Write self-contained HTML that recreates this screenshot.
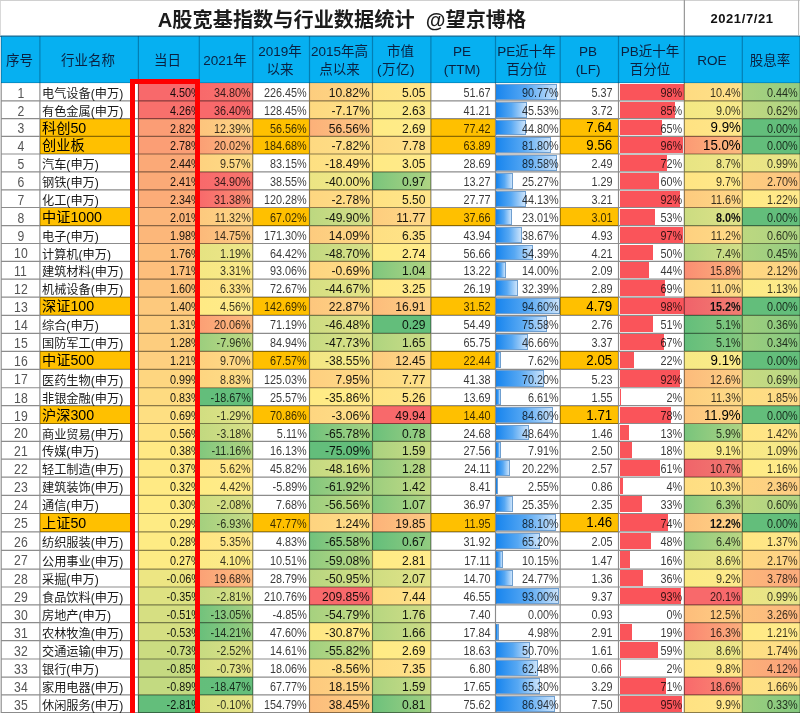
<!DOCTYPE html>
<html lang="zh-CN"><head><meta charset="utf-8"><title>A股宽基指数与行业数据统计</title>
<style>
html,body{margin:0;padding:0;background:#fff;overflow:hidden;}
body{width:800px;height:713px;position:relative;overflow:hidden;font-family:"Liberation Sans","Noto Sans CJK SC",sans-serif;}
.a{position:absolute;box-sizing:border-box;}
.c{position:absolute;box-sizing:border-box;display:flex;align-items:center;justify-content:flex-end;white-space:nowrap;font-size:12.6px;color:#3c3c3c;padding:2px 3px 0 0;overflow:hidden;}
.n{justify-content:flex-start;padding:2px 0 0 2px;font-size:12.2px;color:#1a1a1a;}
.ni{font-size:14.2px;color:#000;padding:0 0 2px 2px;}
.no{justify-content:center;padding:1px 0 0 0;font-size:14.2px;color:#555;}
.b{color:#000;font-size:14px;padding:0 3px 1px 0;}
.b .t{transform:scale(0.95,1);}
.t{display:inline-block;position:relative;transform:scale(0.86,1);transform-origin:right center;}
.no .t{transform-origin:center center;}
.t.w{transform:scale(0.96,1);}
.b13{color:#111;font-weight:bold;font-size:12.6px;}
.h{position:absolute;box-sizing:border-box;display:flex;align-items:center;justify-content:center;text-align:center;font-size:13.5px;line-height:18.5px;padding:3px 2px 0 0;color:#0B2040;white-space:nowrap;}
.v{position:absolute;width:1px;background:rgba(0,0,0,0.45);}
.hl{position:absolute;height:1px;background:rgba(0,0,0,0.45);}
.pe{position:absolute;box-sizing:border-box;background:linear-gradient(90deg,#1a86ee 0%,#57a8f3 50%,#cbe3fb 100%);border:1px solid #6f9fd0;border-left-color:#1c88ee;}
.pb{position:absolute;background:#fa545a;}
</style></head><body>

<div class="a" style="left:0;top:0;width:800px;height:1px;background:#d0d0d0"></div>
<div class="a" style="left:1px;top:0;width:684px;height:36px;display:flex;align-items:center;justify-content:center;font-size:20.2px;font-weight:700;color:#1c1c1c;white-space:pre;padding-top:0px;padding-right:2px">A股宽基指数与行业数据统计  @望京博格</div>
<div class="a" style="left:684px;top:0;width:116px;height:36px;display:flex;align-items:center;justify-content:center;font-size:13px;font-weight:bold;letter-spacing:0.6px;color:#111;padding-top:1px">2021/7/21</div>
<div class="v" style="left:684px;top:0;height:36px;background:#9a9a9a"></div>
<div class="a" style="left:1px;top:36px;width:799px;height:47px;background:#06B0F1"></div>
<div class="h" style="left:1px;top:36px;width:39px;height:47px"><div>序号</div></div>
<div class="h" style="left:40px;top:36px;width:98px;height:47px"><div>行业名称</div></div>
<div class="h" style="left:138px;top:36px;width:61px;height:47px"><div>当日</div></div>
<div class="h" style="left:199px;top:36px;width:54px;height:47px"><div>2021年</div></div>
<div class="h" style="left:253px;top:36px;width:56px;height:47px"><div>2019年<br>以来</div></div>
<div class="h" style="left:309px;top:36px;width:63px;height:47px"><div>2015年高<br>点以来</div></div>
<div class="h" style="left:372px;top:36px;width:59px;height:47px"><div>市值<br><span style="position:relative;left:-4.5px;letter-spacing:0.5px">(万亿)</span></div></div>
<div class="h" style="left:431px;top:36px;width:64px;height:47px"><div>PE<br>(TTM)</div></div>
<div class="h" style="left:495px;top:36px;width:65px;height:47px"><div>PE近十年<br>百分位</div></div>
<div class="h" style="left:560px;top:36px;width:58px;height:47px"><div>PB<br>(LF)</div></div>
<div class="h" style="left:618px;top:36px;width:66px;height:47px"><div>PB近十年<br>百分位</div></div>
<div class="h" style="left:684px;top:36px;width:58px;height:47px"><div>ROE</div></div>
<div class="h" style="left:742px;top:36px;width:58px;height:47px"><div>股息率</div></div>
<div class="c no" style="left:1px;top:83px;width:39px;height:18px;"><span class="t">1</span></div>
<div class="c n" style="left:40px;top:83px;width:95px;height:18px;">电气设备(申万)</div>
<div class="c" style="left:138px;top:83px;width:61px;height:18px;padding-right:0px;color:rgba(0,0,0,0.9);background:#F8696B;"><span class="t" style="left:2px">4.50%</span></div>
<div class="c" style="left:199px;top:83px;width:54px;height:18px;padding-right:2.5px;color:rgba(0,0,0,0.78);background:linear-gradient(90deg,#F8696B,#F9766E);"><span class="t">34.80%</span></div>
<div class="c" style="left:253px;top:83px;width:56px;height:18px;padding-right:2px;color:rgba(0,0,0,0.78);"><span class="t">226.45%</span></div>
<div class="c" style="left:309px;top:83px;width:63px;height:18px;padding-right:2px;color:rgba(0,0,0,0.9);background:linear-gradient(90deg,#FDCD7E,#FED987);"><span class="t w">10.82%</span></div>
<div class="c" style="left:372px;top:83px;width:59px;height:18px;padding-right:5.5px;color:rgba(0,0,0,0.9);background:linear-gradient(90deg,#FFE383,#FFE68B);"><span class="t w">5.05</span></div>
<div class="c" style="left:431px;top:83px;width:64px;height:18px;padding-right:4.5px;color:rgba(0,0,0,0.78);"><span class="t">51.67</span></div>
<div class="c" style="left:495px;top:83px;width:65px;height:18px;padding-right:1.5px;color:rgba(0,0,0,0.78);"><div class="pe" style="left:1px;top:1px;width:61.4px;height:16px"></div><span class="t">90.77%</span></div>
<div class="c" style="left:560px;top:83px;width:58px;height:18px;padding-right:5.5px;color:rgba(0,0,0,0.78);"><span class="t">5.37</span></div>
<div class="c" style="left:618px;top:83px;width:66px;height:18px;padding-right:1.5px;color:rgba(0,0,0,0.78);"><div class="pb" style="left:2px;top:1px;width:63.8px;height:16px"></div><span class="t">98%</span></div>
<div class="c" style="left:684px;top:83px;width:58px;height:18px;padding-right:1.5px;color:rgba(0,0,0,0.78);background:linear-gradient(90deg,#FEDB81,#FEE18A);"><span class="t">10.4%</span></div>
<div class="c" style="left:742px;top:83px;width:58px;height:18px;padding-right:2px;color:rgba(0,0,0,0.78);background:linear-gradient(90deg,#A8D27F,#95CC80);"><span class="t">0.44%</span></div>
<div class="c no" style="left:1px;top:101px;width:39px;height:18px;"><span class="t">2</span></div>
<div class="c n" style="left:40px;top:101px;width:95px;height:18px;">有色金属(申万)</div>
<div class="c" style="left:138px;top:101px;width:61px;height:18px;padding-right:0px;color:rgba(0,0,0,0.9);background:#F8706C;"><span class="t" style="left:2px">4.26%</span></div>
<div class="c" style="left:199px;top:101px;width:54px;height:18px;padding-right:2.5px;color:rgba(0,0,0,0.78);background:linear-gradient(90deg,#F8696B,#F8696B);"><span class="t">36.40%</span></div>
<div class="c" style="left:253px;top:101px;width:56px;height:18px;padding-right:2px;color:rgba(0,0,0,0.78);"><span class="t">128.45%</span></div>
<div class="c" style="left:309px;top:101px;width:63px;height:18px;padding-right:2px;color:rgba(0,0,0,0.9);background:linear-gradient(90deg,#FED980,#FEE089);"><span class="t w">-7.17%</span></div>
<div class="c" style="left:372px;top:101px;width:59px;height:18px;padding-right:5.5px;color:rgba(0,0,0,0.9);background:linear-gradient(90deg,#FAEA84,#FCEA8C);"><span class="t w">2.63</span></div>
<div class="c" style="left:431px;top:101px;width:64px;height:18px;padding-right:4.5px;color:rgba(0,0,0,0.78);"><span class="t">41.21</span></div>
<div class="c" style="left:495px;top:101px;width:65px;height:18px;padding-right:1.5px;color:rgba(0,0,0,0.78);"><div class="pe" style="left:1px;top:1px;width:30.8px;height:16px"></div><span class="t">45.53%</span></div>
<div class="c" style="left:560px;top:101px;width:58px;height:18px;padding-right:5.5px;color:rgba(0,0,0,0.78);"><span class="t">3.72</span></div>
<div class="c" style="left:618px;top:101px;width:66px;height:18px;padding-right:1.5px;color:rgba(0,0,0,0.78);"><div class="pb" style="left:2px;top:1px;width:55.3px;height:16px"></div><span class="t">85%</span></div>
<div class="c" style="left:684px;top:101px;width:58px;height:18px;padding-right:1.5px;color:rgba(0,0,0,0.78);background:linear-gradient(90deg,#F3E883,#F8E98B);"><span class="t">9.0%</span></div>
<div class="c" style="left:742px;top:101px;width:58px;height:18px;padding-right:2px;color:rgba(0,0,0,0.78);background:linear-gradient(90deg,#BED880,#B0D483);"><span class="t">0.62%</span></div>
<div class="c no" style="left:1px;top:119px;width:39px;height:17px;"><span class="t">3</span></div>
<div class="c n ni" style="left:40px;top:119px;width:95px;height:17px;background:#FFC000;">科创50</div>
<div class="c" style="left:138px;top:119px;width:61px;height:17px;padding-right:0px;color:rgba(0,0,0,0.9);background:#FB9D75;"><span class="t" style="left:2px">2.82%</span></div>
<div class="c" style="left:199px;top:119px;width:54px;height:17px;padding-right:2.5px;color:rgba(0,0,0,0.78);background:linear-gradient(90deg,#FDC47D,#FED486);"><span class="t">12.39%</span></div>
<div class="c" style="left:253px;top:119px;width:56px;height:17px;padding-right:2px;color:rgba(0,0,0,0.78);background:#FFC000;"><span class="t">56.56%</span></div>
<div class="c" style="left:309px;top:119px;width:63px;height:17px;padding-right:2px;color:rgba(0,0,0,0.9);background:linear-gradient(90deg,#FCB079,#FDC883);"><span class="t w">56.56%</span></div>
<div class="c" style="left:372px;top:119px;width:59px;height:17px;padding-right:5.5px;color:rgba(0,0,0,0.9);background:linear-gradient(90deg,#FFEB84,#FFEB8C);"><span class="t w">2.69</span></div>
<div class="c" style="left:431px;top:119px;width:64px;height:17px;padding-right:4.5px;color:rgba(0,0,0,0.78);background:#FFC000;"><span class="t">77.42</span></div>
<div class="c" style="left:495px;top:119px;width:65px;height:17px;padding-right:1.5px;color:rgba(0,0,0,0.78);"><div class="pe" style="left:1px;top:1px;width:30.3px;height:15px"></div><span class="t">44.80%</span></div>
<div class="c b" style="left:560px;top:119px;width:58px;height:17px;padding-right:5.5px;background:#FFC000;"><span class="t">7.64</span></div>
<div class="c" style="left:618px;top:119px;width:66px;height:17px;padding-right:1.5px;color:rgba(0,0,0,0.78);"><div class="pb" style="left:2px;top:1px;width:42.3px;height:15px"></div><span class="t">65%</span></div>
<div class="c b" style="left:684px;top:119px;width:58px;height:17px;padding-right:1.5px;background:linear-gradient(90deg,#FFE282,#FFE68B);"><span class="t">9.9%</span></div>
<div class="c" style="left:742px;top:119px;width:58px;height:17px;padding-right:2px;color:rgba(0,0,0,0.78);background:linear-gradient(90deg,#63BE7B,#63BE7B);"><span class="t">0.00%</span></div>
<div class="c no" style="left:1px;top:136px;width:39px;height:18px;"><span class="t">4</span></div>
<div class="c n ni" style="left:40px;top:136px;width:95px;height:18px;background:#FFC000;">创业板</div>
<div class="c" style="left:138px;top:136px;width:61px;height:18px;padding-right:0px;color:rgba(0,0,0,0.9);background:#FB9E75;"><span class="t" style="left:2px">2.78%</span></div>
<div class="c" style="left:199px;top:136px;width:54px;height:18px;padding-right:2.5px;color:rgba(0,0,0,0.78);background:linear-gradient(90deg,#FB9F75,#FDBD80);"><span class="t">20.02%</span></div>
<div class="c" style="left:253px;top:136px;width:56px;height:18px;padding-right:2px;color:rgba(0,0,0,0.78);background:#FFC000;"><span class="t">184.68%</span></div>
<div class="c" style="left:309px;top:136px;width:63px;height:18px;padding-right:2px;color:rgba(0,0,0,0.9);background:linear-gradient(90deg,#FED981,#FEE089);"><span class="t w">-7.82%</span></div>
<div class="c" style="left:372px;top:136px;width:59px;height:18px;padding-right:5.5px;color:rgba(0,0,0,0.9);background:linear-gradient(90deg,#FEDA81,#FEE189);"><span class="t w">7.78</span></div>
<div class="c" style="left:431px;top:136px;width:64px;height:18px;padding-right:4.5px;color:rgba(0,0,0,0.78);background:#FFC000;"><span class="t">63.89</span></div>
<div class="c" style="left:495px;top:136px;width:65px;height:18px;padding-right:1.5px;color:rgba(0,0,0,0.78);"><div class="pe" style="left:1px;top:1px;width:55.3px;height:16px"></div><span class="t">81.80%</span></div>
<div class="c b" style="left:560px;top:136px;width:58px;height:18px;padding-right:5.5px;background:#FFC000;"><span class="t">9.56</span></div>
<div class="c" style="left:618px;top:136px;width:66px;height:18px;padding-right:1.5px;color:rgba(0,0,0,0.78);"><div class="pb" style="left:2px;top:1px;width:62.5px;height:16px"></div><span class="t">96%</span></div>
<div class="c b" style="left:684px;top:136px;width:58px;height:18px;padding-right:1.5px;background:linear-gradient(90deg,#FB9974,#FCBA7F);"><span class="t">15.0%</span></div>
<div class="c" style="left:742px;top:136px;width:58px;height:18px;padding-right:2px;color:rgba(0,0,0,0.78);background:linear-gradient(90deg,#63BE7B,#63BE7B);"><span class="t">0.00%</span></div>
<div class="c no" style="left:1px;top:154px;width:39px;height:18px;"><span class="t">5</span></div>
<div class="c n" style="left:40px;top:154px;width:95px;height:18px;">汽车(申万)</div>
<div class="c" style="left:138px;top:154px;width:61px;height:18px;padding-right:0px;color:rgba(0,0,0,0.9);background:#FBA977;"><span class="t" style="left:2px">2.44%</span></div>
<div class="c" style="left:199px;top:154px;width:54px;height:18px;padding-right:2.5px;color:rgba(0,0,0,0.78);background:linear-gradient(90deg,#FED27F,#FEDC88);"><span class="t">9.57%</span></div>
<div class="c" style="left:253px;top:154px;width:56px;height:18px;padding-right:2px;color:rgba(0,0,0,0.78);"><span class="t">83.15%</span></div>
<div class="c" style="left:309px;top:154px;width:63px;height:18px;padding-right:2px;color:rgba(0,0,0,0.9);background:linear-gradient(90deg,#FEE082,#FFE48A);"><span class="t w">-18.49%</span></div>
<div class="c" style="left:372px;top:154px;width:59px;height:18px;padding-right:5.5px;color:rgba(0,0,0,0.9);background:linear-gradient(90deg,#FFEA84,#FFEA8C);"><span class="t w">3.05</span></div>
<div class="c" style="left:431px;top:154px;width:64px;height:18px;padding-right:4.5px;color:rgba(0,0,0,0.78);"><span class="t">28.69</span></div>
<div class="c" style="left:495px;top:154px;width:65px;height:18px;padding-right:1.5px;color:rgba(0,0,0,0.78);"><div class="pe" style="left:1px;top:1px;width:60.6px;height:16px"></div><span class="t">89.58%</span></div>
<div class="c" style="left:560px;top:154px;width:58px;height:18px;padding-right:5.5px;color:rgba(0,0,0,0.78);"><span class="t">2.49</span></div>
<div class="c" style="left:618px;top:154px;width:66px;height:18px;padding-right:1.5px;color:rgba(0,0,0,0.78);"><div class="pb" style="left:2px;top:1px;width:46.9px;height:16px"></div><span class="t">72%</span></div>
<div class="c" style="left:684px;top:154px;width:58px;height:18px;padding-right:1.5px;color:rgba(0,0,0,0.78);background:linear-gradient(90deg,#E7E483,#F1E78A);"><span class="t">8.7%</span></div>
<div class="c" style="left:742px;top:154px;width:58px;height:18px;padding-right:2px;color:rgba(0,0,0,0.78);background:linear-gradient(90deg,#EBE583,#E7E489);"><span class="t">0.99%</span></div>
<div class="c no" style="left:1px;top:172px;width:39px;height:18px;"><span class="t">6</span></div>
<div class="c n" style="left:40px;top:172px;width:95px;height:18px;">钢铁(申万)</div>
<div class="c" style="left:138px;top:172px;width:61px;height:18px;padding-right:0px;color:rgba(0,0,0,0.9);background:#FBAA77;"><span class="t" style="left:2px">2.41%</span></div>
<div class="c" style="left:199px;top:172px;width:54px;height:18px;padding-right:2.5px;color:rgba(0,0,0,0.78);background:linear-gradient(90deg,#F8696B,#F9766E);"><span class="t">34.90%</span></div>
<div class="c" style="left:253px;top:172px;width:56px;height:18px;padding-right:2px;color:rgba(0,0,0,0.78);"><span class="t">38.55%</span></div>
<div class="c" style="left:309px;top:172px;width:63px;height:18px;padding-right:2px;color:rgba(0,0,0,0.9);background:linear-gradient(90deg,#EBE583,#F3E88B);"><span class="t w">-40.00%</span></div>
<div class="c" style="left:372px;top:172px;width:59px;height:18px;padding-right:5.5px;color:rgba(0,0,0,0.9);background:linear-gradient(90deg,#79C47C,#AFD483);"><span class="t w">0.97</span></div>
<div class="c" style="left:431px;top:172px;width:64px;height:18px;padding-right:4.5px;color:rgba(0,0,0,0.78);"><span class="t">13.27</span></div>
<div class="c" style="left:495px;top:172px;width:65px;height:18px;padding-right:1.5px;color:rgba(0,0,0,0.78);"><div class="pe" style="left:1px;top:1px;width:17.1px;height:16px"></div><span class="t">25.27%</span></div>
<div class="c" style="left:560px;top:172px;width:58px;height:18px;padding-right:5.5px;color:rgba(0,0,0,0.78);"><span class="t">1.29</span></div>
<div class="c" style="left:618px;top:172px;width:66px;height:18px;padding-right:1.5px;color:rgba(0,0,0,0.78);"><div class="pb" style="left:2px;top:1px;width:39.1px;height:16px"></div><span class="t">60%</span></div>
<div class="c" style="left:684px;top:172px;width:58px;height:18px;padding-right:1.5px;color:rgba(0,0,0,0.78);background:linear-gradient(90deg,#FFE583,#FFE88B);"><span class="t">9.7%</span></div>
<div class="c" style="left:742px;top:172px;width:58px;height:18px;padding-right:2px;color:rgba(0,0,0,0.78);background:linear-gradient(90deg,#FDCC7E,#FDC582);"><span class="t">2.70%</span></div>
<div class="c no" style="left:1px;top:190px;width:39px;height:18px;"><span class="t">7</span></div>
<div class="c n" style="left:40px;top:190px;width:95px;height:18px;">化工(申万)</div>
<div class="c" style="left:138px;top:190px;width:61px;height:18px;padding-right:0px;color:rgba(0,0,0,0.9);background:#FCAC78;"><span class="t" style="left:2px">2.34%</span></div>
<div class="c" style="left:199px;top:190px;width:54px;height:18px;padding-right:2.5px;color:rgba(0,0,0,0.78);background:linear-gradient(90deg,#F8696B,#FA9175);"><span class="t">31.38%</span></div>
<div class="c" style="left:253px;top:190px;width:56px;height:18px;padding-right:2px;color:rgba(0,0,0,0.78);"><span class="t">120.28%</span></div>
<div class="c" style="left:309px;top:190px;width:63px;height:18px;padding-right:2px;color:rgba(0,0,0,0.9);background:linear-gradient(90deg,#FED680,#FEDE89);"><span class="t w">-2.78%</span></div>
<div class="c" style="left:372px;top:190px;width:59px;height:18px;padding-right:5.5px;color:rgba(0,0,0,0.9);background:linear-gradient(90deg,#FFE282,#FFE58B);"><span class="t w">5.50</span></div>
<div class="c" style="left:431px;top:190px;width:64px;height:18px;padding-right:4.5px;color:rgba(0,0,0,0.78);"><span class="t">27.77</span></div>
<div class="c" style="left:495px;top:190px;width:65px;height:18px;padding-right:1.5px;color:rgba(0,0,0,0.78);"><div class="pe" style="left:1px;top:1px;width:29.9px;height:16px"></div><span class="t">44.13%</span></div>
<div class="c" style="left:560px;top:190px;width:58px;height:18px;padding-right:5.5px;color:rgba(0,0,0,0.78);"><span class="t">3.21</span></div>
<div class="c" style="left:618px;top:190px;width:66px;height:18px;padding-right:1.5px;color:rgba(0,0,0,0.78);"><div class="pb" style="left:2px;top:1px;width:59.9px;height:16px"></div><span class="t">92%</span></div>
<div class="c" style="left:684px;top:190px;width:58px;height:18px;padding-right:1.5px;color:rgba(0,0,0,0.78);background:linear-gradient(90deg,#FDCA7E,#FED787);"><span class="t">11.6%</span></div>
<div class="c" style="left:742px;top:190px;width:58px;height:18px;padding-right:2px;color:rgba(0,0,0,0.78);background:linear-gradient(90deg,#FFEA84,#FFE98C);"><span class="t">1.22%</span></div>
<div class="c no" style="left:1px;top:208px;width:39px;height:18px;"><span class="t">8</span></div>
<div class="c n ni" style="left:40px;top:208px;width:95px;height:18px;background:#FFC000;">中证1000</div>
<div class="c" style="left:138px;top:208px;width:61px;height:18px;padding-right:0px;color:rgba(0,0,0,0.9);background:#FCB67A;"><span class="t" style="left:2px">2.01%</span></div>
<div class="c" style="left:199px;top:208px;width:54px;height:18px;padding-right:2.5px;color:rgba(0,0,0,0.78);background:linear-gradient(90deg,#FDC97E,#FED787);"><span class="t">11.32%</span></div>
<div class="c" style="left:253px;top:208px;width:56px;height:18px;padding-right:2px;color:rgba(0,0,0,0.78);background:#FFC000;"><span class="t">67.02%</span></div>
<div class="c" style="left:309px;top:208px;width:63px;height:18px;padding-right:2px;color:rgba(0,0,0,0.9);background:linear-gradient(90deg,#BCD880,#D7DF88);"><span class="t w">-49.90%</span></div>
<div class="c" style="left:372px;top:208px;width:59px;height:18px;padding-right:5.5px;color:rgba(0,0,0,0.9);background:linear-gradient(90deg,#FDCD7E,#FED987);"><span class="t w">11.77</span></div>
<div class="c" style="left:431px;top:208px;width:64px;height:18px;padding-right:4.5px;color:rgba(0,0,0,0.78);background:#FFC000;"><span class="t">37.66</span></div>
<div class="c" style="left:495px;top:208px;width:65px;height:18px;padding-right:1.5px;color:rgba(0,0,0,0.78);"><div class="pe" style="left:1px;top:1px;width:15.6px;height:16px"></div><span class="t">23.01%</span></div>
<div class="c" style="left:560px;top:208px;width:58px;height:18px;padding-right:5.5px;color:rgba(0,0,0,0.78);background:#FFC000;"><span class="t">3.01</span></div>
<div class="c" style="left:618px;top:208px;width:66px;height:18px;padding-right:1.5px;color:rgba(0,0,0,0.78);"><div class="pb" style="left:2px;top:1px;width:34.5px;height:16px"></div><span class="t">53%</span></div>
<div class="c b13" style="left:684px;top:208px;width:58px;height:18px;padding-right:1.5px;background:linear-gradient(90deg,#CBDC81,#E0E289);"><span class="t">8.0%</span></div>
<div class="c" style="left:742px;top:208px;width:58px;height:18px;padding-right:2px;color:rgba(0,0,0,0.78);background:linear-gradient(90deg,#63BE7B,#63BE7B);"><span class="t">0.00%</span></div>
<div class="c no" style="left:1px;top:226px;width:39px;height:18px;"><span class="t">9</span></div>
<div class="c n" style="left:40px;top:226px;width:95px;height:18px;">电子(申万)</div>
<div class="c" style="left:138px;top:226px;width:61px;height:18px;padding-right:0px;color:rgba(0,0,0,0.9);background:#FCB77A;"><span class="t" style="left:2px">1.98%</span></div>
<div class="c" style="left:199px;top:226px;width:54px;height:18px;padding-right:2.5px;color:rgba(0,0,0,0.78);background:linear-gradient(90deg,#FCB97A,#FDCD84);"><span class="t">14.75%</span></div>
<div class="c" style="left:253px;top:226px;width:56px;height:18px;padding-right:2px;color:rgba(0,0,0,0.78);"><span class="t">171.30%</span></div>
<div class="c" style="left:309px;top:226px;width:63px;height:18px;padding-right:2px;color:rgba(0,0,0,0.9);background:linear-gradient(90deg,#FDCB7E,#FED887);"><span class="t w">14.09%</span></div>
<div class="c" style="left:372px;top:226px;width:59px;height:18px;padding-right:5.5px;color:rgba(0,0,0,0.9);background:linear-gradient(90deg,#FEDF82,#FFE48A);"><span class="t w">6.35</span></div>
<div class="c" style="left:431px;top:226px;width:64px;height:18px;padding-right:4.5px;color:rgba(0,0,0,0.78);"><span class="t">43.94</span></div>
<div class="c" style="left:495px;top:226px;width:65px;height:18px;padding-right:1.5px;color:rgba(0,0,0,0.78);"><div class="pe" style="left:1px;top:1px;width:26.2px;height:16px"></div><span class="t">38.67%</span></div>
<div class="c" style="left:560px;top:226px;width:58px;height:18px;padding-right:5.5px;color:rgba(0,0,0,0.78);"><span class="t">4.93</span></div>
<div class="c" style="left:618px;top:226px;width:66px;height:18px;padding-right:1.5px;color:rgba(0,0,0,0.78);"><div class="pb" style="left:2px;top:1px;width:63.1px;height:16px"></div><span class="t">97%</span></div>
<div class="c" style="left:684px;top:226px;width:58px;height:18px;padding-right:1.5px;color:rgba(0,0,0,0.78);background:linear-gradient(90deg,#FED07F,#FEDB88);"><span class="t">11.2%</span></div>
<div class="c" style="left:742px;top:226px;width:58px;height:18px;padding-right:2px;color:rgba(0,0,0,0.78);background:linear-gradient(90deg,#BCD880,#ADD383);"><span class="t">0.60%</span></div>
<div class="c no" style="left:1px;top:244px;width:39px;height:17px;"><span class="t">10</span></div>
<div class="c n" style="left:40px;top:244px;width:95px;height:17px;">计算机(申万)</div>
<div class="c" style="left:138px;top:244px;width:61px;height:17px;padding-right:0px;color:rgba(0,0,0,0.9);background:#FDBE7B;"><span class="t" style="left:2px">1.76%</span></div>
<div class="c" style="left:199px;top:244px;width:54px;height:17px;padding-right:2.5px;color:rgba(0,0,0,0.78);background:linear-gradient(90deg,#E5E382,#EFE68A);"><span class="t">1.19%</span></div>
<div class="c" style="left:253px;top:244px;width:56px;height:17px;padding-right:2px;color:rgba(0,0,0,0.78);"><span class="t">64.42%</span></div>
<div class="c" style="left:309px;top:244px;width:63px;height:17px;padding-right:2px;color:rgba(0,0,0,0.9);background:linear-gradient(90deg,#C2D980,#DAE088);"><span class="t w">-48.70%</span></div>
<div class="c" style="left:372px;top:244px;width:59px;height:17px;padding-right:5.5px;color:rgba(0,0,0,0.9);background:linear-gradient(90deg,#FFEB84,#FFEB8C);"><span class="t w">2.74</span></div>
<div class="c" style="left:431px;top:244px;width:64px;height:17px;padding-right:4.5px;color:rgba(0,0,0,0.78);"><span class="t">56.66</span></div>
<div class="c" style="left:495px;top:244px;width:65px;height:17px;padding-right:1.5px;color:rgba(0,0,0,0.78);"><div class="pe" style="left:1px;top:1px;width:36.8px;height:15px"></div><span class="t">54.39%</span></div>
<div class="c" style="left:560px;top:244px;width:58px;height:17px;padding-right:5.5px;color:rgba(0,0,0,0.78);"><span class="t">4.21</span></div>
<div class="c" style="left:618px;top:244px;width:66px;height:17px;padding-right:1.5px;color:rgba(0,0,0,0.78);"><div class="pb" style="left:2px;top:1px;width:32.6px;height:15px"></div><span class="t">50%</span></div>
<div class="c" style="left:684px;top:244px;width:58px;height:17px;padding-right:1.5px;color:rgba(0,0,0,0.78);background:linear-gradient(90deg,#B3D580,#D2DE87);"><span class="t">7.4%</span></div>
<div class="c" style="left:742px;top:244px;width:58px;height:17px;padding-right:2px;color:rgba(0,0,0,0.78);background:linear-gradient(90deg,#AAD27F,#97CD81);"><span class="t">0.45%</span></div>
<div class="c no" style="left:1px;top:261px;width:39px;height:18px;"><span class="t">11</span></div>
<div class="c n" style="left:40px;top:261px;width:95px;height:18px;">建筑材料(申万)</div>
<div class="c" style="left:138px;top:261px;width:61px;height:18px;padding-right:0px;color:rgba(0,0,0,0.9);background:#FDBF7C;"><span class="t" style="left:2px">1.71%</span></div>
<div class="c" style="left:199px;top:261px;width:54px;height:18px;padding-right:2.5px;color:rgba(0,0,0,0.78);background:linear-gradient(90deg,#F6E883,#FAE98B);"><span class="t">3.31%</span></div>
<div class="c" style="left:253px;top:261px;width:56px;height:18px;padding-right:2px;color:rgba(0,0,0,0.78);"><span class="t">93.06%</span></div>
<div class="c" style="left:309px;top:261px;width:63px;height:18px;padding-right:2px;color:rgba(0,0,0,0.9);background:linear-gradient(90deg,#FED580,#FEDE89);"><span class="t w">-0.69%</span></div>
<div class="c" style="left:372px;top:261px;width:59px;height:18px;padding-right:5.5px;color:rgba(0,0,0,0.9);background:linear-gradient(90deg,#7EC67D,#B2D584);"><span class="t w">1.04</span></div>
<div class="c" style="left:431px;top:261px;width:64px;height:18px;padding-right:4.5px;color:rgba(0,0,0,0.78);"><span class="t">13.22</span></div>
<div class="c" style="left:495px;top:261px;width:65px;height:18px;padding-right:1.5px;color:rgba(0,0,0,0.78);"><div class="pe" style="left:1px;top:1px;width:9.5px;height:16px"></div><span class="t">14.00%</span></div>
<div class="c" style="left:560px;top:261px;width:58px;height:18px;padding-right:5.5px;color:rgba(0,0,0,0.78);"><span class="t">2.09</span></div>
<div class="c" style="left:618px;top:261px;width:66px;height:18px;padding-right:1.5px;color:rgba(0,0,0,0.78);"><div class="pb" style="left:2px;top:1px;width:28.6px;height:16px"></div><span class="t">44%</span></div>
<div class="c" style="left:684px;top:261px;width:58px;height:18px;padding-right:1.5px;color:rgba(0,0,0,0.78);background:linear-gradient(90deg,#FA8D72,#FCB37E);"><span class="t">15.8%</span></div>
<div class="c" style="left:742px;top:261px;width:58px;height:18px;padding-right:2px;color:rgba(0,0,0,0.78);background:linear-gradient(90deg,#FED880,#FED386);"><span class="t">2.12%</span></div>
<div class="c no" style="left:1px;top:279px;width:39px;height:18px;"><span class="t">12</span></div>
<div class="c n" style="left:40px;top:279px;width:95px;height:18px;">机械设备(申万)</div>
<div class="c" style="left:138px;top:279px;width:61px;height:18px;padding-right:0px;color:rgba(0,0,0,0.9);background:#FDC37C;"><span class="t" style="left:2px">1.60%</span></div>
<div class="c" style="left:199px;top:279px;width:54px;height:18px;padding-right:2.5px;color:rgba(0,0,0,0.78);background:linear-gradient(90deg,#FEE282,#FFE58B);"><span class="t">6.33%</span></div>
<div class="c" style="left:253px;top:279px;width:56px;height:18px;padding-right:2px;color:rgba(0,0,0,0.78);"><span class="t">72.67%</span></div>
<div class="c" style="left:309px;top:279px;width:63px;height:18px;padding-right:2px;color:rgba(0,0,0,0.9);background:linear-gradient(90deg,#D5DF82,#E6E489);"><span class="t w">-44.67%</span></div>
<div class="c" style="left:372px;top:279px;width:59px;height:18px;padding-right:5.5px;color:rgba(0,0,0,0.9);background:linear-gradient(90deg,#FFE984,#FFEA8C);"><span class="t w">3.25</span></div>
<div class="c" style="left:431px;top:279px;width:64px;height:18px;padding-right:4.5px;color:rgba(0,0,0,0.78);"><span class="t">26.19</span></div>
<div class="c" style="left:495px;top:279px;width:65px;height:18px;padding-right:1.5px;color:rgba(0,0,0,0.78);"><div class="pe" style="left:1px;top:1px;width:21.9px;height:16px"></div><span class="t">32.39%</span></div>
<div class="c" style="left:560px;top:279px;width:58px;height:18px;padding-right:5.5px;color:rgba(0,0,0,0.78);"><span class="t">2.89</span></div>
<div class="c" style="left:618px;top:279px;width:66px;height:18px;padding-right:1.5px;color:rgba(0,0,0,0.78);"><div class="pb" style="left:2px;top:1px;width:44.9px;height:16px"></div><span class="t">69%</span></div>
<div class="c" style="left:684px;top:279px;width:58px;height:18px;padding-right:1.5px;color:rgba(0,0,0,0.78);background:linear-gradient(90deg,#FED27F,#FEDC88);"><span class="t">11.0%</span></div>
<div class="c" style="left:742px;top:279px;width:58px;height:18px;padding-right:2px;color:rgba(0,0,0,0.78);background:linear-gradient(90deg,#FDEA84,#FCEA8C);"><span class="t">1.13%</span></div>
<div class="c no" style="left:1px;top:297px;width:39px;height:18px;"><span class="t">13</span></div>
<div class="c n ni" style="left:40px;top:297px;width:95px;height:18px;background:#FFC000;">深证100</div>
<div class="c" style="left:138px;top:297px;width:61px;height:18px;padding-right:0px;color:rgba(0,0,0,0.9);background:#FDC97D;"><span class="t" style="left:2px">1.40%</span></div>
<div class="c" style="left:199px;top:297px;width:54px;height:18px;padding-right:2.5px;color:rgba(0,0,0,0.78);background:linear-gradient(90deg,#FFEA84,#FFEB8C);"><span class="t">4.56%</span></div>
<div class="c" style="left:253px;top:297px;width:56px;height:18px;padding-right:2px;color:rgba(0,0,0,0.78);background:#FFC000;"><span class="t">142.69%</span></div>
<div class="c" style="left:309px;top:297px;width:63px;height:18px;padding-right:2px;color:rgba(0,0,0,0.9);background:linear-gradient(90deg,#FDC67D,#FED586);"><span class="t w">22.87%</span></div>
<div class="c" style="left:372px;top:297px;width:59px;height:18px;padding-right:5.5px;color:rgba(0,0,0,0.9);background:linear-gradient(90deg,#FCBC7B,#FDCF85);"><span class="t w">16.91</span></div>
<div class="c" style="left:431px;top:297px;width:64px;height:18px;padding-right:4.5px;color:rgba(0,0,0,0.78);background:#FFC000;"><span class="t">31.52</span></div>
<div class="c" style="left:495px;top:297px;width:65px;height:18px;padding-right:1.5px;color:rgba(0,0,0,0.78);"><div class="pe" style="left:1px;top:1px;width:64.0px;height:16px"></div><span class="t">94.60%</span></div>
<div class="c b" style="left:560px;top:297px;width:58px;height:18px;padding-right:5.5px;background:#FFC000;"><span class="t">4.79</span></div>
<div class="c" style="left:618px;top:297px;width:66px;height:18px;padding-right:1.5px;color:rgba(0,0,0,0.78);"><div class="pb" style="left:2px;top:1px;width:63.8px;height:16px"></div><span class="t">98%</span></div>
<div class="c b13" style="left:684px;top:297px;width:58px;height:18px;padding-right:1.5px;background:linear-gradient(90deg,#F0626A,#F27E72);"><span class="t">15.2%</span></div>
<div class="c" style="left:742px;top:297px;width:58px;height:18px;padding-right:2px;color:rgba(0,0,0,0.78);background:linear-gradient(90deg,#63BE7B,#63BE7B);"><span class="t">0.00%</span></div>
<div class="c no" style="left:1px;top:315px;width:39px;height:18px;"><span class="t">14</span></div>
<div class="c n" style="left:40px;top:315px;width:95px;height:18px;">综合(申万)</div>
<div class="c" style="left:138px;top:315px;width:61px;height:18px;padding-right:0px;color:rgba(0,0,0,0.9);background:#FDCC7E;"><span class="t" style="left:2px">1.31%</span></div>
<div class="c" style="left:199px;top:315px;width:54px;height:18px;padding-right:2.5px;color:rgba(0,0,0,0.78);background:linear-gradient(90deg,#FB9F75,#FDBD80);"><span class="t">20.06%</span></div>
<div class="c" style="left:253px;top:315px;width:56px;height:18px;padding-right:2px;color:rgba(0,0,0,0.78);"><span class="t">71.19%</span></div>
<div class="c" style="left:309px;top:315px;width:63px;height:18px;padding-right:2px;color:rgba(0,0,0,0.9);background:linear-gradient(90deg,#CCDC81,#E1E289);"><span class="t w">-46.48%</span></div>
<div class="c" style="left:372px;top:315px;width:59px;height:18px;padding-right:5.5px;color:rgba(0,0,0,0.9);background:linear-gradient(90deg,#63BE7B,#63BE7B);"><span class="t w">0.29</span></div>
<div class="c" style="left:431px;top:315px;width:64px;height:18px;padding-right:4.5px;color:rgba(0,0,0,0.78);"><span class="t">54.49</span></div>
<div class="c" style="left:495px;top:315px;width:65px;height:18px;padding-right:1.5px;color:rgba(0,0,0,0.78);"><div class="pe" style="left:1px;top:1px;width:51.1px;height:16px"></div><span class="t">75.58%</span></div>
<div class="c" style="left:560px;top:315px;width:58px;height:18px;padding-right:5.5px;color:rgba(0,0,0,0.78);"><span class="t">2.76</span></div>
<div class="c" style="left:618px;top:315px;width:66px;height:18px;padding-right:1.5px;color:rgba(0,0,0,0.78);"><div class="pb" style="left:2px;top:1px;width:33.2px;height:16px"></div><span class="t">51%</span></div>
<div class="c" style="left:684px;top:315px;width:58px;height:18px;padding-right:1.5px;color:rgba(0,0,0,0.78);background:linear-gradient(90deg,#63BE7B,#84C87F);"><span class="t">5.1%</span></div>
<div class="c" style="left:742px;top:315px;width:58px;height:18px;padding-right:2px;color:rgba(0,0,0,0.78);background:linear-gradient(90deg,#9FCF7E,#89C97F);"><span class="t">0.36%</span></div>
<div class="c no" style="left:1px;top:333px;width:39px;height:18px;"><span class="t">15</span></div>
<div class="c n" style="left:40px;top:333px;width:95px;height:18px;">国防军工(申万)</div>
<div class="c" style="left:138px;top:333px;width:61px;height:18px;padding-right:0px;color:rgba(0,0,0,0.9);background:#FDCD7E;"><span class="t" style="left:2px">1.28%</span></div>
<div class="c" style="left:199px;top:333px;width:54px;height:18px;padding-right:2.5px;color:rgba(0,0,0,0.78);background:linear-gradient(90deg,#9BCE7E,#C3DA85);"><span class="t">-7.96%</span></div>
<div class="c" style="left:253px;top:333px;width:56px;height:18px;padding-right:2px;color:rgba(0,0,0,0.78);"><span class="t">84.94%</span></div>
<div class="c" style="left:309px;top:333px;width:63px;height:18px;padding-right:2px;color:rgba(0,0,0,0.9);background:linear-gradient(90deg,#C6DB81,#DDE188);"><span class="t w">-47.73%</span></div>
<div class="c" style="left:372px;top:333px;width:59px;height:18px;padding-right:5.5px;color:rgba(0,0,0,0.9);background:linear-gradient(90deg,#AED47F,#CEDD87);"><span class="t w">1.65</span></div>
<div class="c" style="left:431px;top:333px;width:64px;height:18px;padding-right:4.5px;color:rgba(0,0,0,0.78);"><span class="t">65.75</span></div>
<div class="c" style="left:495px;top:333px;width:65px;height:18px;padding-right:1.5px;color:rgba(0,0,0,0.78);"><div class="pe" style="left:1px;top:1px;width:31.6px;height:16px"></div><span class="t">46.66%</span></div>
<div class="c" style="left:560px;top:333px;width:58px;height:18px;padding-right:5.5px;color:rgba(0,0,0,0.78);"><span class="t">3.37</span></div>
<div class="c" style="left:618px;top:333px;width:66px;height:18px;padding-right:1.5px;color:rgba(0,0,0,0.78);"><div class="pb" style="left:2px;top:1px;width:43.6px;height:16px"></div><span class="t">67%</span></div>
<div class="c" style="left:684px;top:333px;width:58px;height:18px;padding-right:1.5px;color:rgba(0,0,0,0.78);background:linear-gradient(90deg,#63BE7B,#84C87F);"><span class="t">5.1%</span></div>
<div class="c" style="left:742px;top:333px;width:58px;height:18px;padding-right:2px;color:rgba(0,0,0,0.78);background:linear-gradient(90deg,#9CCE7E,#86C87F);"><span class="t">0.34%</span></div>
<div class="c no" style="left:1px;top:351px;width:39px;height:18px;"><span class="t">16</span></div>
<div class="c n ni" style="left:40px;top:351px;width:95px;height:18px;background:#FFC000;">中证500</div>
<div class="c" style="left:138px;top:351px;width:61px;height:18px;padding-right:0px;color:rgba(0,0,0,0.9);background:#FDCF7F;"><span class="t" style="left:2px">1.21%</span></div>
<div class="c" style="left:199px;top:351px;width:54px;height:18px;padding-right:2.5px;color:rgba(0,0,0,0.78);background:linear-gradient(90deg,#FED17F,#FEDC88);"><span class="t">9.70%</span></div>
<div class="c" style="left:253px;top:351px;width:56px;height:18px;padding-right:2px;color:rgba(0,0,0,0.78);background:#FFC000;"><span class="t">67.57%</span></div>
<div class="c" style="left:309px;top:351px;width:63px;height:18px;padding-right:2px;color:rgba(0,0,0,0.9);background:linear-gradient(90deg,#F2E783,#F7E98B);"><span class="t w">-38.55%</span></div>
<div class="c" style="left:372px;top:351px;width:59px;height:18px;padding-right:5.5px;color:rgba(0,0,0,0.9);background:linear-gradient(90deg,#FDCB7E,#FED887);"><span class="t w">12.45</span></div>
<div class="c" style="left:431px;top:351px;width:64px;height:18px;padding-right:4.5px;color:rgba(0,0,0,0.78);background:#FFC000;"><span class="t">22.44</span></div>
<div class="c" style="left:495px;top:351px;width:65px;height:18px;padding-right:1.5px;color:rgba(0,0,0,0.78);"><div class="pe" style="left:1px;top:1px;width:5.2px;height:16px"></div><span class="t">7.62%</span></div>
<div class="c b" style="left:560px;top:351px;width:58px;height:18px;padding-right:5.5px;background:#FFC000;"><span class="t">2.05</span></div>
<div class="c" style="left:618px;top:351px;width:66px;height:18px;padding-right:1.5px;color:rgba(0,0,0,0.78);"><div class="pb" style="left:2px;top:1px;width:14.3px;height:16px"></div><span class="t">22%</span></div>
<div class="c b" style="left:684px;top:351px;width:58px;height:18px;padding-right:1.5px;background:linear-gradient(90deg,#F7E984,#FAEA8B);"><span class="t">9.1%</span></div>
<div class="c" style="left:742px;top:351px;width:58px;height:18px;padding-right:2px;color:rgba(0,0,0,0.78);background:linear-gradient(90deg,#63BE7B,#63BE7B);"><span class="t">0.00%</span></div>
<div class="c no" style="left:1px;top:369px;width:39px;height:19px;"><span class="t">17</span></div>
<div class="c n" style="left:40px;top:369px;width:95px;height:19px;">医药生物(申万)</div>
<div class="c" style="left:138px;top:369px;width:61px;height:19px;padding-right:0px;color:rgba(0,0,0,0.9);background:#FED680;"><span class="t" style="left:2px">0.99%</span></div>
<div class="c" style="left:199px;top:369px;width:54px;height:19px;padding-right:2.5px;color:rgba(0,0,0,0.78);background:linear-gradient(90deg,#FED580,#FEDE89);"><span class="t">8.83%</span></div>
<div class="c" style="left:253px;top:369px;width:56px;height:19px;padding-right:2px;color:rgba(0,0,0,0.78);"><span class="t">125.03%</span></div>
<div class="c" style="left:309px;top:369px;width:63px;height:19px;padding-right:2px;color:rgba(0,0,0,0.9);background:linear-gradient(90deg,#FECF7F,#FEDA88);"><span class="t w">7.95%</span></div>
<div class="c" style="left:372px;top:369px;width:59px;height:19px;padding-right:5.5px;color:rgba(0,0,0,0.9);background:linear-gradient(90deg,#FEDA81,#FEE189);"><span class="t w">7.77</span></div>
<div class="c" style="left:431px;top:369px;width:64px;height:19px;padding-right:4.5px;color:rgba(0,0,0,0.78);"><span class="t">41.38</span></div>
<div class="c" style="left:495px;top:369px;width:65px;height:19px;padding-right:1.5px;color:rgba(0,0,0,0.78);"><div class="pe" style="left:1px;top:1px;width:47.5px;height:17px"></div><span class="t">70.20%</span></div>
<div class="c" style="left:560px;top:369px;width:58px;height:19px;padding-right:5.5px;color:rgba(0,0,0,0.78);"><span class="t">5.23</span></div>
<div class="c" style="left:618px;top:369px;width:66px;height:19px;padding-right:1.5px;color:rgba(0,0,0,0.78);"><div class="pb" style="left:2px;top:1px;width:59.9px;height:17px"></div><span class="t">92%</span></div>
<div class="c" style="left:684px;top:369px;width:58px;height:19px;padding-right:1.5px;color:rgba(0,0,0,0.78);background:linear-gradient(90deg,#FCBB7B,#FDCE85);"><span class="t">12.6%</span></div>
<div class="c" style="left:742px;top:369px;width:58px;height:19px;padding-right:2px;color:rgba(0,0,0,0.78);background:linear-gradient(90deg,#C7DB81,#BAD785);"><span class="t">0.69%</span></div>
<div class="c no" style="left:1px;top:388px;width:39px;height:18px;"><span class="t">18</span></div>
<div class="c n" style="left:40px;top:388px;width:95px;height:18px;">非银金融(申万)</div>
<div class="c" style="left:138px;top:388px;width:61px;height:18px;padding-right:0px;color:rgba(0,0,0,0.9);background:#FEDB81;"><span class="t" style="left:2px">0.83%</span></div>
<div class="c" style="left:199px;top:388px;width:54px;height:18px;padding-right:2.5px;color:rgba(0,0,0,0.78);background:linear-gradient(90deg,#63BE7B,#63BE7B);"><span class="t">-18.67%</span></div>
<div class="c" style="left:253px;top:388px;width:56px;height:18px;padding-right:2px;color:rgba(0,0,0,0.78);"><span class="t">25.57%</span></div>
<div class="c" style="left:309px;top:388px;width:63px;height:18px;padding-right:2px;color:rgba(0,0,0,0.9);background:linear-gradient(90deg,#FFEB84,#FFEB8C);"><span class="t w">-35.86%</span></div>
<div class="c" style="left:372px;top:388px;width:59px;height:18px;padding-right:5.5px;color:rgba(0,0,0,0.9);background:linear-gradient(90deg,#FFE382,#FFE68B);"><span class="t w">5.26</span></div>
<div class="c" style="left:431px;top:388px;width:64px;height:18px;padding-right:4.5px;color:rgba(0,0,0,0.78);"><span class="t">13.69</span></div>
<div class="c" style="left:495px;top:388px;width:65px;height:18px;padding-right:1.5px;color:rgba(0,0,0,0.78);"><div class="pe" style="left:1px;top:1px;width:4.5px;height:16px"></div><span class="t">6.61%</span></div>
<div class="c" style="left:560px;top:388px;width:58px;height:18px;padding-right:5.5px;color:rgba(0,0,0,0.78);"><span class="t">1.55</span></div>
<div class="c" style="left:618px;top:388px;width:66px;height:18px;padding-right:1.5px;color:rgba(0,0,0,0.78);"><div class="pb" style="left:2px;top:1px;width:1.3px;height:16px"></div><span class="t">2%</span></div>
<div class="c" style="left:684px;top:388px;width:58px;height:18px;padding-right:1.5px;color:rgba(0,0,0,0.78);background:linear-gradient(90deg,#FDCE7E,#FEDA88);"><span class="t">11.3%</span></div>
<div class="c" style="left:742px;top:388px;width:58px;height:18px;padding-right:2px;color:rgba(0,0,0,0.78);background:linear-gradient(90deg,#FEDD81,#FEDA88);"><span class="t">1.85%</span></div>
<div class="c no" style="left:1px;top:406px;width:39px;height:18px;"><span class="t">19</span></div>
<div class="c n ni" style="left:40px;top:406px;width:95px;height:18px;background:#FFC000;">沪深300</div>
<div class="c" style="left:138px;top:406px;width:61px;height:18px;padding-right:0px;color:rgba(0,0,0,0.9);background:#FEDF82;"><span class="t" style="left:2px">0.69%</span></div>
<div class="c" style="left:199px;top:406px;width:54px;height:18px;padding-right:2.5px;color:rgba(0,0,0,0.78);background:linear-gradient(90deg,#D1DE81,#E3E389);"><span class="t">-1.29%</span></div>
<div class="c" style="left:253px;top:406px;width:56px;height:18px;padding-right:2px;color:rgba(0,0,0,0.78);background:#FFC000;"><span class="t">70.86%</span></div>
<div class="c" style="left:309px;top:406px;width:63px;height:18px;padding-right:2px;color:rgba(0,0,0,0.9);background:linear-gradient(90deg,#FED680,#FEDF89);"><span class="t w">-3.06%</span></div>
<div class="c" style="left:372px;top:406px;width:59px;height:18px;padding-right:5.5px;color:rgba(0,0,0,0.9);background:linear-gradient(90deg,#F8696B,#F8696B);"><span class="t w">49.94</span></div>
<div class="c" style="left:431px;top:406px;width:64px;height:18px;padding-right:4.5px;color:rgba(0,0,0,0.78);background:#FFC000;"><span class="t">14.40</span></div>
<div class="c" style="left:495px;top:406px;width:65px;height:18px;padding-right:1.5px;color:rgba(0,0,0,0.78);"><div class="pe" style="left:1px;top:1px;width:57.2px;height:16px"></div><span class="t">84.60%</span></div>
<div class="c b" style="left:560px;top:406px;width:58px;height:18px;padding-right:5.5px;background:#FFC000;"><span class="t">1.71</span></div>
<div class="c" style="left:618px;top:406px;width:66px;height:18px;padding-right:1.5px;color:rgba(0,0,0,0.78);"><div class="pb" style="left:2px;top:1px;width:50.8px;height:16px"></div><span class="t">78%</span></div>
<div class="c b" style="left:684px;top:406px;width:58px;height:18px;padding-right:1.5px;background:linear-gradient(90deg,#FDC57D,#FED486);"><span class="t">11.9%</span></div>
<div class="c" style="left:742px;top:406px;width:58px;height:18px;padding-right:2px;color:rgba(0,0,0,0.78);background:linear-gradient(90deg,#63BE7B,#63BE7B);"><span class="t">0.00%</span></div>
<div class="c no" style="left:1px;top:424px;width:39px;height:17px;"><span class="t">20</span></div>
<div class="c n" style="left:40px;top:424px;width:95px;height:17px;">商业贸易(申万)</div>
<div class="c" style="left:138px;top:424px;width:61px;height:17px;padding-right:0px;color:rgba(0,0,0,0.9);background:#FFE382;"><span class="t" style="left:2px">0.56%</span></div>
<div class="c" style="left:199px;top:424px;width:54px;height:17px;padding-right:2.5px;color:rgba(0,0,0,0.78);background:linear-gradient(90deg,#C1D980,#DAE088);"><span class="t">-3.18%</span></div>
<div class="c" style="left:253px;top:424px;width:56px;height:17px;padding-right:2px;color:rgba(0,0,0,0.78);"><span class="t">5.11%</span></div>
<div class="c" style="left:309px;top:424px;width:63px;height:17px;padding-right:2px;color:rgba(0,0,0,0.9);background:linear-gradient(90deg,#70C27C,#A8D282);"><span class="t w">-65.78%</span></div>
<div class="c" style="left:372px;top:424px;width:59px;height:17px;padding-right:5.5px;color:rgba(0,0,0,0.9);background:linear-gradient(90deg,#6AC07B,#9FCF82);"><span class="t w">0.78</span></div>
<div class="c" style="left:431px;top:424px;width:64px;height:17px;padding-right:4.5px;color:rgba(0,0,0,0.78);"><span class="t">24.68</span></div>
<div class="c" style="left:495px;top:424px;width:65px;height:17px;padding-right:1.5px;color:rgba(0,0,0,0.78);"><div class="pe" style="left:1px;top:1px;width:32.9px;height:15px"></div><span class="t">48.64%</span></div>
<div class="c" style="left:560px;top:424px;width:58px;height:17px;padding-right:5.5px;color:rgba(0,0,0,0.78);"><span class="t">1.46</span></div>
<div class="c" style="left:618px;top:424px;width:66px;height:17px;padding-right:1.5px;color:rgba(0,0,0,0.78);"><div class="pb" style="left:2px;top:1px;width:8.5px;height:15px"></div><span class="t">13%</span></div>
<div class="c" style="left:684px;top:424px;width:58px;height:17px;padding-right:1.5px;color:rgba(0,0,0,0.78);background:linear-gradient(90deg,#78C47C,#AED483);"><span class="t">5.9%</span></div>
<div class="c" style="left:742px;top:424px;width:58px;height:17px;padding-right:2px;color:rgba(0,0,0,0.78);background:linear-gradient(90deg,#FFE683,#FFE48A);"><span class="t">1.42%</span></div>
<div class="c no" style="left:1px;top:441px;width:39px;height:18px;"><span class="t">21</span></div>
<div class="c n" style="left:40px;top:441px;width:95px;height:18px;">传媒(申万)</div>
<div class="c" style="left:138px;top:441px;width:61px;height:18px;padding-right:0px;color:rgba(0,0,0,0.9);background:#FFE984;"><span class="t" style="left:2px">0.38%</span></div>
<div class="c" style="left:199px;top:441px;width:54px;height:18px;padding-right:2.5px;color:rgba(0,0,0,0.78);background:linear-gradient(90deg,#81C77D,#B3D584);"><span class="t">-11.16%</span></div>
<div class="c" style="left:253px;top:441px;width:56px;height:18px;padding-right:2px;color:rgba(0,0,0,0.78);"><span class="t">16.13%</span></div>
<div class="c" style="left:309px;top:441px;width:63px;height:18px;padding-right:2px;color:rgba(0,0,0,0.9);background:linear-gradient(90deg,#63BE7B,#63BE7B);"><span class="t w">-75.09%</span></div>
<div class="c" style="left:372px;top:441px;width:59px;height:18px;padding-right:5.5px;color:rgba(0,0,0,0.9);background:linear-gradient(90deg,#A9D27F,#CCDC86);"><span class="t w">1.59</span></div>
<div class="c" style="left:431px;top:441px;width:64px;height:18px;padding-right:4.5px;color:rgba(0,0,0,0.78);"><span class="t">27.56</span></div>
<div class="c" style="left:495px;top:441px;width:65px;height:18px;padding-right:1.5px;color:rgba(0,0,0,0.78);"><div class="pe" style="left:1px;top:1px;width:5.4px;height:16px"></div><span class="t">7.91%</span></div>
<div class="c" style="left:560px;top:441px;width:58px;height:18px;padding-right:5.5px;color:rgba(0,0,0,0.78);"><span class="t">2.50</span></div>
<div class="c" style="left:618px;top:441px;width:66px;height:18px;padding-right:1.5px;color:rgba(0,0,0,0.78);"><div class="pb" style="left:2px;top:1px;width:11.7px;height:16px"></div><span class="t">18%</span></div>
<div class="c" style="left:684px;top:441px;width:58px;height:18px;padding-right:1.5px;color:rgba(0,0,0,0.78);background:linear-gradient(90deg,#F7E984,#FAEA8B);"><span class="t">9.1%</span></div>
<div class="c" style="left:742px;top:441px;width:58px;height:18px;padding-right:2px;color:rgba(0,0,0,0.78);background:linear-gradient(90deg,#F8E984,#F6E88B);"><span class="t">1.09%</span></div>
<div class="c no" style="left:1px;top:459px;width:39px;height:18px;"><span class="t">22</span></div>
<div class="c n" style="left:40px;top:459px;width:95px;height:18px;">轻工制造(申万)</div>
<div class="c" style="left:138px;top:459px;width:61px;height:18px;padding-right:0px;color:rgba(0,0,0,0.9);background:#FFE984;"><span class="t" style="left:2px">0.37%</span></div>
<div class="c" style="left:199px;top:459px;width:54px;height:18px;padding-right:2.5px;color:rgba(0,0,0,0.78);background:linear-gradient(90deg,#FFE583,#FFE78B);"><span class="t">5.62%</span></div>
<div class="c" style="left:253px;top:459px;width:56px;height:18px;padding-right:2px;color:rgba(0,0,0,0.78);"><span class="t">45.82%</span></div>
<div class="c" style="left:309px;top:459px;width:63px;height:18px;padding-right:2px;color:rgba(0,0,0,0.9);background:linear-gradient(90deg,#C4DA81,#DCE188);"><span class="t w">-48.16%</span></div>
<div class="c" style="left:372px;top:459px;width:59px;height:18px;padding-right:5.5px;color:rgba(0,0,0,0.9);background:linear-gradient(90deg,#91CB7E,#BDD885);"><span class="t w">1.28</span></div>
<div class="c" style="left:431px;top:459px;width:64px;height:18px;padding-right:4.5px;color:rgba(0,0,0,0.78);"><span class="t">24.11</span></div>
<div class="c" style="left:495px;top:459px;width:65px;height:18px;padding-right:1.5px;color:rgba(0,0,0,0.78);"><div class="pe" style="left:1px;top:1px;width:13.7px;height:16px"></div><span class="t">20.22%</span></div>
<div class="c" style="left:560px;top:459px;width:58px;height:18px;padding-right:5.5px;color:rgba(0,0,0,0.78);"><span class="t">2.57</span></div>
<div class="c" style="left:618px;top:459px;width:66px;height:18px;padding-right:1.5px;color:rgba(0,0,0,0.78);"><div class="pb" style="left:2px;top:1px;width:39.7px;height:16px"></div><span class="t">61%</span></div>
<div class="c" style="left:684px;top:459px;width:58px;height:18px;padding-right:1.5px;color:rgba(0,0,0,0.78);background:linear-gradient(90deg,#F0646A,#F17A70);"><span class="t">10.7%</span></div>
<div class="c" style="left:742px;top:459px;width:58px;height:18px;padding-right:2px;color:rgba(0,0,0,0.78);background:linear-gradient(90deg,#FFEB84,#FFEB8C);"><span class="t">1.16%</span></div>
<div class="c no" style="left:1px;top:477px;width:39px;height:18px;"><span class="t">23</span></div>
<div class="c n" style="left:40px;top:477px;width:95px;height:18px;">建筑装饰(申万)</div>
<div class="c" style="left:138px;top:477px;width:61px;height:18px;padding-right:0px;color:rgba(0,0,0,0.9);background:#FFEA84;"><span class="t" style="left:2px">0.32%</span></div>
<div class="c" style="left:199px;top:477px;width:54px;height:18px;padding-right:2.5px;color:rgba(0,0,0,0.78);background:linear-gradient(90deg,#FFEB84,#FFEB8C);"><span class="t">4.42%</span></div>
<div class="c" style="left:253px;top:477px;width:56px;height:18px;padding-right:2px;color:rgba(0,0,0,0.78);"><span class="t">-5.89%</span></div>
<div class="c" style="left:309px;top:477px;width:63px;height:18px;padding-right:2px;color:rgba(0,0,0,0.9);background:linear-gradient(90deg,#83C77D,#B4D584);"><span class="t w">-61.92%</span></div>
<div class="c" style="left:372px;top:477px;width:59px;height:18px;padding-right:5.5px;color:rgba(0,0,0,0.9);background:linear-gradient(90deg,#9CCE7E,#C4DA86);"><span class="t w">1.42</span></div>
<div class="c" style="left:431px;top:477px;width:64px;height:18px;padding-right:4.5px;color:rgba(0,0,0,0.78);"><span class="t">8.41</span></div>
<div class="c" style="left:495px;top:477px;width:65px;height:18px;padding-right:1.5px;color:rgba(0,0,0,0.78);"><div class="pe" style="left:1px;top:1px;width:1.7px;height:16px"></div><span class="t">2.55%</span></div>
<div class="c" style="left:560px;top:477px;width:58px;height:18px;padding-right:5.5px;color:rgba(0,0,0,0.78);"><span class="t">0.86</span></div>
<div class="c" style="left:618px;top:477px;width:66px;height:18px;padding-right:1.5px;color:rgba(0,0,0,0.78);"><div class="pb" style="left:2px;top:1px;width:2.6px;height:16px"></div><span class="t">4%</span></div>
<div class="c" style="left:684px;top:477px;width:58px;height:18px;padding-right:1.5px;color:rgba(0,0,0,0.78);background:linear-gradient(90deg,#FEDD81,#FFE28A);"><span class="t">10.3%</span></div>
<div class="c" style="left:742px;top:477px;width:58px;height:18px;padding-right:2px;color:rgba(0,0,0,0.78);background:linear-gradient(90deg,#FED37F,#FDCD84);"><span class="t">2.36%</span></div>
<div class="c no" style="left:1px;top:495px;width:39px;height:18px;"><span class="t">24</span></div>
<div class="c n" style="left:40px;top:495px;width:95px;height:18px;">通信(申万)</div>
<div class="c" style="left:138px;top:495px;width:61px;height:18px;padding-right:0px;color:rgba(0,0,0,0.9);background:#FFEB84;"><span class="t" style="left:2px">0.30%</span></div>
<div class="c" style="left:199px;top:495px;width:54px;height:18px;padding-right:2.5px;color:rgba(0,0,0,0.78);background:linear-gradient(90deg,#CADC81,#DFE289);"><span class="t">-2.08%</span></div>
<div class="c" style="left:253px;top:495px;width:56px;height:18px;padding-right:2px;color:rgba(0,0,0,0.78);"><span class="t">7.68%</span></div>
<div class="c" style="left:309px;top:495px;width:63px;height:18px;padding-right:2px;color:rgba(0,0,0,0.9);background:linear-gradient(90deg,#9CCF7E,#C4DA86);"><span class="t w">-56.56%</span></div>
<div class="c" style="left:372px;top:495px;width:59px;height:18px;padding-right:5.5px;color:rgba(0,0,0,0.9);background:linear-gradient(90deg,#81C77D,#B3D584);"><span class="t w">1.07</span></div>
<div class="c" style="left:431px;top:495px;width:64px;height:18px;padding-right:4.5px;color:rgba(0,0,0,0.78);"><span class="t">36.97</span></div>
<div class="c" style="left:495px;top:495px;width:65px;height:18px;padding-right:1.5px;color:rgba(0,0,0,0.78);"><div class="pe" style="left:1px;top:1px;width:17.2px;height:16px"></div><span class="t">25.35%</span></div>
<div class="c" style="left:560px;top:495px;width:58px;height:18px;padding-right:5.5px;color:rgba(0,0,0,0.78);"><span class="t">2.35</span></div>
<div class="c" style="left:618px;top:495px;width:66px;height:18px;padding-right:1.5px;color:rgba(0,0,0,0.78);"><div class="pb" style="left:2px;top:1px;width:21.5px;height:16px"></div><span class="t">33%</span></div>
<div class="c" style="left:684px;top:495px;width:58px;height:18px;padding-right:1.5px;color:rgba(0,0,0,0.78);background:linear-gradient(90deg,#88C97D,#B7D684);"><span class="t">6.3%</span></div>
<div class="c" style="left:742px;top:495px;width:58px;height:18px;padding-right:2px;color:rgba(0,0,0,0.78);background:linear-gradient(90deg,#BCD880,#ADD383);"><span class="t">0.60%</span></div>
<div class="c no" style="left:1px;top:513px;width:39px;height:19px;"><span class="t">25</span></div>
<div class="c n ni" style="left:40px;top:513px;width:95px;height:19px;background:#FFC000;">上证50</div>
<div class="c" style="left:138px;top:513px;width:61px;height:19px;padding-right:0px;color:rgba(0,0,0,0.9);background:#FEEB84;"><span class="t" style="left:2px">0.29%</span></div>
<div class="c" style="left:199px;top:513px;width:54px;height:19px;padding-right:2.5px;color:rgba(0,0,0,0.78);background:linear-gradient(90deg,#A3D07F,#C8DB86);"><span class="t">-6.93%</span></div>
<div class="c" style="left:253px;top:513px;width:56px;height:19px;padding-right:2px;color:rgba(0,0,0,0.78);background:#FFC000;"><span class="t">47.77%</span></div>
<div class="c" style="left:309px;top:513px;width:63px;height:19px;padding-right:2px;color:rgba(0,0,0,0.9);background:linear-gradient(90deg,#FED37F,#FEDD88);"><span class="t w">1.24%</span></div>
<div class="c" style="left:372px;top:513px;width:59px;height:19px;padding-right:5.5px;color:rgba(0,0,0,0.9);background:linear-gradient(90deg,#FCB279,#FDC983);"><span class="t w">19.85</span></div>
<div class="c" style="left:431px;top:513px;width:64px;height:19px;padding-right:4.5px;color:rgba(0,0,0,0.78);background:#FFC000;"><span class="t">11.95</span></div>
<div class="c" style="left:495px;top:513px;width:65px;height:19px;padding-right:1.5px;color:rgba(0,0,0,0.78);"><div class="pe" style="left:1px;top:1px;width:59.6px;height:17px"></div><span class="t">88.10%</span></div>
<div class="c b" style="left:560px;top:513px;width:58px;height:19px;padding-right:5.5px;background:#FFC000;"><span class="t">1.46</span></div>
<div class="c" style="left:618px;top:513px;width:66px;height:19px;padding-right:1.5px;color:rgba(0,0,0,0.78);"><div class="pb" style="left:2px;top:1px;width:48.2px;height:17px"></div><span class="t">74%</span></div>
<div class="c b13" style="left:684px;top:513px;width:58px;height:19px;padding-right:1.5px;background:linear-gradient(90deg,#FDC17C,#FED286);"><span class="t">12.2%</span></div>
<div class="c" style="left:742px;top:513px;width:58px;height:19px;padding-right:2px;color:rgba(0,0,0,0.78);background:linear-gradient(90deg,#63BE7B,#63BE7B);"><span class="t">0.00%</span></div>
<div class="c no" style="left:1px;top:532px;width:39px;height:18px;"><span class="t">26</span></div>
<div class="c n" style="left:40px;top:532px;width:95px;height:18px;">纺织服装(申万)</div>
<div class="c" style="left:138px;top:532px;width:61px;height:18px;padding-right:0px;color:rgba(0,0,0,0.9);background:#FEEB84;"><span class="t" style="left:2px">0.28%</span></div>
<div class="c" style="left:199px;top:532px;width:54px;height:18px;padding-right:2.5px;color:rgba(0,0,0,0.78);background:linear-gradient(90deg,#FFE683,#FFE88B);"><span class="t">5.35%</span></div>
<div class="c" style="left:253px;top:532px;width:56px;height:18px;padding-right:2px;color:rgba(0,0,0,0.78);"><span class="t">4.83%</span></div>
<div class="c" style="left:309px;top:532px;width:63px;height:18px;padding-right:2px;color:rgba(0,0,0,0.9);background:linear-gradient(90deg,#71C27C,#A9D283);"><span class="t w">-65.58%</span></div>
<div class="c" style="left:372px;top:532px;width:59px;height:18px;padding-right:5.5px;color:rgba(0,0,0,0.9);background:linear-gradient(90deg,#63BE7B,#93CC80);"><span class="t w">0.67</span></div>
<div class="c" style="left:431px;top:532px;width:64px;height:18px;padding-right:4.5px;color:rgba(0,0,0,0.78);"><span class="t">31.92</span></div>
<div class="c" style="left:495px;top:532px;width:65px;height:18px;padding-right:1.5px;color:rgba(0,0,0,0.78);"><div class="pe" style="left:1px;top:1px;width:44.1px;height:16px"></div><span class="t">65.20%</span></div>
<div class="c" style="left:560px;top:532px;width:58px;height:18px;padding-right:5.5px;color:rgba(0,0,0,0.78);"><span class="t">2.05</span></div>
<div class="c" style="left:618px;top:532px;width:66px;height:18px;padding-right:1.5px;color:rgba(0,0,0,0.78);"><div class="pb" style="left:2px;top:1px;width:31.2px;height:16px"></div><span class="t">48%</span></div>
<div class="c" style="left:684px;top:532px;width:58px;height:18px;padding-right:1.5px;color:rgba(0,0,0,0.78);background:linear-gradient(90deg,#8BCA7D,#BAD784);"><span class="t">6.4%</span></div>
<div class="c" style="left:742px;top:532px;width:58px;height:18px;padding-right:2px;color:rgba(0,0,0,0.78);background:linear-gradient(90deg,#FFE783,#FFE68B);"><span class="t">1.37%</span></div>
<div class="c no" style="left:1px;top:550px;width:39px;height:19px;"><span class="t">27</span></div>
<div class="c n" style="left:40px;top:550px;width:95px;height:19px;">公用事业(申万)</div>
<div class="c" style="left:138px;top:550px;width:61px;height:19px;padding-right:0px;color:rgba(0,0,0,0.9);background:#FDEB84;"><span class="t" style="left:2px">0.27%</span></div>
<div class="c" style="left:199px;top:550px;width:54px;height:19px;padding-right:2.5px;color:rgba(0,0,0,0.78);background:linear-gradient(90deg,#FCEA84,#FDEB8C);"><span class="t">4.10%</span></div>
<div class="c" style="left:253px;top:550px;width:56px;height:19px;padding-right:2px;color:rgba(0,0,0,0.78);"><span class="t">10.51%</span></div>
<div class="c" style="left:309px;top:550px;width:63px;height:19px;padding-right:2px;color:rgba(0,0,0,0.9);background:linear-gradient(90deg,#90CB7E,#BDD885);"><span class="t w">-59.08%</span></div>
<div class="c" style="left:372px;top:550px;width:59px;height:19px;padding-right:5.5px;color:rgba(0,0,0,0.9);background:linear-gradient(90deg,#FFEB84,#FFEB8C);"><span class="t w">2.81</span></div>
<div class="c" style="left:431px;top:550px;width:64px;height:19px;padding-right:4.5px;color:rgba(0,0,0,0.78);"><span class="t">17.11</span></div>
<div class="c" style="left:495px;top:550px;width:65px;height:19px;padding-right:1.5px;color:rgba(0,0,0,0.78);"><div class="pe" style="left:1px;top:1px;width:6.9px;height:17px"></div><span class="t">10.15%</span></div>
<div class="c" style="left:560px;top:550px;width:58px;height:19px;padding-right:5.5px;color:rgba(0,0,0,0.78);"><span class="t">1.47</span></div>
<div class="c" style="left:618px;top:550px;width:66px;height:19px;padding-right:1.5px;color:rgba(0,0,0,0.78);"><div class="pb" style="left:2px;top:1px;width:10.4px;height:17px"></div><span class="t">16%</span></div>
<div class="c" style="left:684px;top:550px;width:58px;height:19px;padding-right:1.5px;color:rgba(0,0,0,0.78);background:linear-gradient(90deg,#E3E382,#EEE68A);"><span class="t">8.6%</span></div>
<div class="c" style="left:742px;top:550px;width:58px;height:19px;padding-right:2px;color:rgba(0,0,0,0.78);background:linear-gradient(90deg,#FED780,#FED286);"><span class="t">2.17%</span></div>
<div class="c no" style="left:1px;top:569px;width:39px;height:18px;"><span class="t">28</span></div>
<div class="c n" style="left:40px;top:569px;width:95px;height:18px;">采掘(申万)</div>
<div class="c" style="left:138px;top:569px;width:61px;height:18px;padding-right:0px;color:rgba(0,0,0,0.9);background:#EDE683;"><span class="t" style="left:2px">-0.06%</span></div>
<div class="c" style="left:199px;top:569px;width:54px;height:18px;padding-right:2.5px;color:rgba(0,0,0,0.78);background:linear-gradient(90deg,#FBA176,#FDBE81);"><span class="t">19.68%</span></div>
<div class="c" style="left:253px;top:569px;width:56px;height:18px;padding-right:2px;color:rgba(0,0,0,0.78);"><span class="t">28.79%</span></div>
<div class="c" style="left:309px;top:569px;width:63px;height:18px;padding-right:2px;color:rgba(0,0,0,0.9);background:linear-gradient(90deg,#B7D680,#D4DF87);"><span class="t w">-50.95%</span></div>
<div class="c" style="left:372px;top:569px;width:59px;height:18px;padding-right:5.5px;color:rgba(0,0,0,0.9);background:linear-gradient(90deg,#CFDD81,#E2E389);"><span class="t w">2.07</span></div>
<div class="c" style="left:431px;top:569px;width:64px;height:18px;padding-right:4.5px;color:rgba(0,0,0,0.78);"><span class="t">14.70</span></div>
<div class="c" style="left:495px;top:569px;width:65px;height:18px;padding-right:1.5px;color:rgba(0,0,0,0.78);"><div class="pe" style="left:1px;top:1px;width:16.8px;height:16px"></div><span class="t">24.77%</span></div>
<div class="c" style="left:560px;top:569px;width:58px;height:18px;padding-right:5.5px;color:rgba(0,0,0,0.78);"><span class="t">1.36</span></div>
<div class="c" style="left:618px;top:569px;width:66px;height:18px;padding-right:1.5px;color:rgba(0,0,0,0.78);"><div class="pb" style="left:2px;top:1px;width:23.4px;height:16px"></div><span class="t">36%</span></div>
<div class="c" style="left:684px;top:569px;width:58px;height:18px;padding-right:1.5px;color:rgba(0,0,0,0.78);background:linear-gradient(90deg,#FBEA84,#FDEA8C);"><span class="t">9.2%</span></div>
<div class="c" style="left:742px;top:569px;width:58px;height:18px;padding-right:2px;color:rgba(0,0,0,0.78);background:linear-gradient(90deg,#FCB67A,#FCAB7C);"><span class="t">3.78%</span></div>
<div class="c no" style="left:1px;top:587px;width:39px;height:18px;"><span class="t">29</span></div>
<div class="c n" style="left:40px;top:587px;width:95px;height:18px;">食品饮料(申万)</div>
<div class="c" style="left:138px;top:587px;width:61px;height:18px;padding-right:0px;color:rgba(0,0,0,0.9);background:#DEE282;"><span class="t" style="left:2px">-0.35%</span></div>
<div class="c" style="left:199px;top:587px;width:54px;height:18px;padding-right:2.5px;color:rgba(0,0,0,0.78);background:linear-gradient(90deg,#C4DA81,#DCE188);"><span class="t">-2.81%</span></div>
<div class="c" style="left:253px;top:587px;width:56px;height:18px;padding-right:2px;color:rgba(0,0,0,0.78);"><span class="t">210.76%</span></div>
<div class="c" style="left:309px;top:587px;width:63px;height:18px;padding-right:2px;color:rgba(0,0,0,0.9);background:linear-gradient(90deg,#F8696B,#F8696B);"><span class="t w">209.85%</span></div>
<div class="c" style="left:372px;top:587px;width:59px;height:18px;padding-right:5.5px;color:rgba(0,0,0,0.9);background:linear-gradient(90deg,#FEDB81,#FEE28A);"><span class="t w">7.44</span></div>
<div class="c" style="left:431px;top:587px;width:64px;height:18px;padding-right:4.5px;color:rgba(0,0,0,0.78);"><span class="t">46.55</span></div>
<div class="c" style="left:495px;top:587px;width:65px;height:18px;padding-right:1.5px;color:rgba(0,0,0,0.78);"><div class="pe" style="left:1px;top:1px;width:62.9px;height:16px"></div><span class="t">93.00%</span></div>
<div class="c" style="left:560px;top:587px;width:58px;height:18px;padding-right:5.5px;color:rgba(0,0,0,0.78);"><span class="t">9.37</span></div>
<div class="c" style="left:618px;top:587px;width:66px;height:18px;padding-right:1.5px;color:rgba(0,0,0,0.78);"><div class="pb" style="left:2px;top:1px;width:60.5px;height:16px"></div><span class="t">93%</span></div>
<div class="c" style="left:684px;top:587px;width:58px;height:18px;padding-right:1.5px;color:rgba(0,0,0,0.78);background:linear-gradient(90deg,#F8696B,#F8696B);"><span class="t">20.1%</span></div>
<div class="c" style="left:742px;top:587px;width:58px;height:18px;padding-right:2px;color:rgba(0,0,0,0.78);background:linear-gradient(90deg,#EBE583,#E7E489);"><span class="t">0.99%</span></div>
<div class="c no" style="left:1px;top:605px;width:39px;height:18px;"><span class="t">30</span></div>
<div class="c n" style="left:40px;top:605px;width:95px;height:18px;">房地产(申万)</div>
<div class="c" style="left:138px;top:605px;width:61px;height:18px;padding-right:0px;color:rgba(0,0,0,0.9);background:#D6DF82;"><span class="t" style="left:2px">-0.51%</span></div>
<div class="c" style="left:199px;top:605px;width:54px;height:18px;padding-right:2.5px;color:rgba(0,0,0,0.78);background:linear-gradient(90deg,#71C27C,#A9D283);"><span class="t">-13.05%</span></div>
<div class="c" style="left:253px;top:605px;width:56px;height:18px;padding-right:2px;color:rgba(0,0,0,0.78);"><span class="t">-4.85%</span></div>
<div class="c" style="left:309px;top:605px;width:63px;height:18px;padding-right:2px;color:rgba(0,0,0,0.9);background:linear-gradient(90deg,#A5D17F,#C9DB86);"><span class="t w">-54.79%</span></div>
<div class="c" style="left:372px;top:605px;width:59px;height:18px;padding-right:5.5px;color:rgba(0,0,0,0.9);background:linear-gradient(90deg,#B6D680,#D3DE87);"><span class="t w">1.76</span></div>
<div class="c" style="left:431px;top:605px;width:64px;height:18px;padding-right:4.5px;color:rgba(0,0,0,0.78);"><span class="t">7.40</span></div>
<div class="c" style="left:495px;top:605px;width:65px;height:18px;padding-right:1.5px;color:rgba(0,0,0,0.78);"><span class="t">0.00%</span></div>
<div class="c" style="left:560px;top:605px;width:58px;height:18px;padding-right:5.5px;color:rgba(0,0,0,0.78);"><span class="t">0.93</span></div>
<div class="c" style="left:618px;top:605px;width:66px;height:18px;padding-right:1.5px;color:rgba(0,0,0,0.78);"><span class="t">0%</span></div>
<div class="c" style="left:684px;top:605px;width:58px;height:18px;padding-right:1.5px;color:rgba(0,0,0,0.78);background:linear-gradient(90deg,#FDBD7B,#FECF85);"><span class="t">12.5%</span></div>
<div class="c" style="left:742px;top:605px;width:58px;height:18px;padding-right:2px;color:rgba(0,0,0,0.78);background:linear-gradient(90deg,#FDC17C,#FCB77F);"><span class="t">3.26%</span></div>
<div class="c no" style="left:1px;top:623px;width:39px;height:18px;"><span class="t">31</span></div>
<div class="c n" style="left:40px;top:623px;width:95px;height:18px;">农林牧渔(申万)</div>
<div class="c" style="left:138px;top:623px;width:61px;height:18px;padding-right:0px;color:rgba(0,0,0,0.9);background:#D5DF82;"><span class="t" style="left:2px">-0.53%</span></div>
<div class="c" style="left:199px;top:623px;width:54px;height:18px;padding-right:2.5px;color:rgba(0,0,0,0.78);background:linear-gradient(90deg,#68BF7B,#9CCF81);"><span class="t">-14.21%</span></div>
<div class="c" style="left:253px;top:623px;width:56px;height:18px;padding-right:2px;color:rgba(0,0,0,0.78);"><span class="t">47.60%</span></div>
<div class="c" style="left:309px;top:623px;width:63px;height:18px;padding-right:2px;color:rgba(0,0,0,0.9);background:linear-gradient(90deg,#FFE883,#FFE98C);"><span class="t w">-30.87%</span></div>
<div class="c" style="left:372px;top:623px;width:59px;height:18px;padding-right:5.5px;color:rgba(0,0,0,0.9);background:linear-gradient(90deg,#AFD47F,#CFDD87);"><span class="t w">1.66</span></div>
<div class="c" style="left:431px;top:623px;width:64px;height:18px;padding-right:4.5px;color:rgba(0,0,0,0.78);"><span class="t">17.84</span></div>
<div class="c" style="left:495px;top:623px;width:65px;height:18px;padding-right:1.5px;color:rgba(0,0,0,0.78);"><div class="pe" style="left:1px;top:1px;width:3.4px;height:16px"></div><span class="t">4.98%</span></div>
<div class="c" style="left:560px;top:623px;width:58px;height:18px;padding-right:5.5px;color:rgba(0,0,0,0.78);"><span class="t">2.91</span></div>
<div class="c" style="left:618px;top:623px;width:66px;height:18px;padding-right:1.5px;color:rgba(0,0,0,0.78);"><div class="pb" style="left:2px;top:1px;width:12.4px;height:16px"></div><span class="t">19%</span></div>
<div class="c" style="left:684px;top:623px;width:58px;height:18px;padding-right:1.5px;color:rgba(0,0,0,0.78);background:linear-gradient(90deg,#FA8671,#FCAE7D);"><span class="t">16.3%</span></div>
<div class="c" style="left:742px;top:623px;width:58px;height:18px;padding-right:2px;color:rgba(0,0,0,0.78);background:linear-gradient(90deg,#FFEA84,#FFEA8C);"><span class="t">1.21%</span></div>
<div class="c no" style="left:1px;top:641px;width:39px;height:18px;"><span class="t">32</span></div>
<div class="c n" style="left:40px;top:641px;width:95px;height:18px;">交通运输(申万)</div>
<div class="c" style="left:138px;top:641px;width:61px;height:18px;padding-right:0px;color:rgba(0,0,0,0.9);background:#CBDC81;"><span class="t" style="left:2px">-0.73%</span></div>
<div class="c" style="left:199px;top:641px;width:54px;height:18px;padding-right:2.5px;color:rgba(0,0,0,0.78);background:linear-gradient(90deg,#C7DB81,#DDE188);"><span class="t">-2.52%</span></div>
<div class="c" style="left:253px;top:641px;width:56px;height:18px;padding-right:2px;color:rgba(0,0,0,0.78);"><span class="t">14.61%</span></div>
<div class="c" style="left:309px;top:641px;width:63px;height:18px;padding-right:2px;color:rgba(0,0,0,0.9);background:linear-gradient(90deg,#A0D07F,#C6DB86);"><span class="t w">-55.82%</span></div>
<div class="c" style="left:372px;top:641px;width:59px;height:18px;padding-right:5.5px;color:rgba(0,0,0,0.9);background:linear-gradient(90deg,#FFEB84,#FFEB8C);"><span class="t w">2.69</span></div>
<div class="c" style="left:431px;top:641px;width:64px;height:18px;padding-right:4.5px;color:rgba(0,0,0,0.78);"><span class="t">18.63</span></div>
<div class="c" style="left:495px;top:641px;width:65px;height:18px;padding-right:1.5px;color:rgba(0,0,0,0.78);"><div class="pe" style="left:1px;top:1px;width:34.3px;height:16px"></div><span class="t">50.70%</span></div>
<div class="c" style="left:560px;top:641px;width:58px;height:18px;padding-right:5.5px;color:rgba(0,0,0,0.78);"><span class="t">1.61</span></div>
<div class="c" style="left:618px;top:641px;width:66px;height:18px;padding-right:1.5px;color:rgba(0,0,0,0.78);"><div class="pb" style="left:2px;top:1px;width:38.4px;height:16px"></div><span class="t">59%</span></div>
<div class="c" style="left:684px;top:641px;width:58px;height:18px;padding-right:1.5px;color:rgba(0,0,0,0.78);background:linear-gradient(90deg,#E3E382,#EEE68A);"><span class="t">8.6%</span></div>
<div class="c" style="left:742px;top:641px;width:58px;height:18px;padding-right:2px;color:rgba(0,0,0,0.78);background:linear-gradient(90deg,#FEDF82,#FEDD88);"><span class="t">1.74%</span></div>
<div class="c no" style="left:1px;top:659px;width:39px;height:18px;"><span class="t">33</span></div>
<div class="c n" style="left:40px;top:659px;width:95px;height:18px;">银行(申万)</div>
<div class="c" style="left:138px;top:659px;width:61px;height:18px;padding-right:0px;color:rgba(0,0,0,0.9);background:#C5DA81;"><span class="t" style="left:2px">-0.85%</span></div>
<div class="c" style="left:199px;top:659px;width:54px;height:18px;padding-right:2.5px;color:rgba(0,0,0,0.78);background:linear-gradient(90deg,#D5DF82,#E6E489);"><span class="t">-0.73%</span></div>
<div class="c" style="left:253px;top:659px;width:56px;height:18px;padding-right:2px;color:rgba(0,0,0,0.78);"><span class="t">18.06%</span></div>
<div class="c" style="left:309px;top:659px;width:63px;height:18px;padding-right:2px;color:rgba(0,0,0,0.9);background:linear-gradient(90deg,#FEDA81,#FEE189);"><span class="t w">-8.56%</span></div>
<div class="c" style="left:372px;top:659px;width:59px;height:18px;padding-right:5.5px;color:rgba(0,0,0,0.9);background:linear-gradient(90deg,#FEDC81,#FFE28A);"><span class="t w">7.35</span></div>
<div class="c" style="left:431px;top:659px;width:64px;height:18px;padding-right:4.5px;color:rgba(0,0,0,0.78);"><span class="t">6.80</span></div>
<div class="c" style="left:495px;top:659px;width:65px;height:18px;padding-right:1.5px;color:rgba(0,0,0,0.78);"><div class="pe" style="left:1px;top:1px;width:42.3px;height:16px"></div><span class="t">62.48%</span></div>
<div class="c" style="left:560px;top:659px;width:58px;height:18px;padding-right:5.5px;color:rgba(0,0,0,0.78);"><span class="t">0.66</span></div>
<div class="c" style="left:618px;top:659px;width:66px;height:18px;padding-right:1.5px;color:rgba(0,0,0,0.78);"><div class="pb" style="left:2px;top:1px;width:1.3px;height:16px"></div><span class="t">2%</span></div>
<div class="c" style="left:684px;top:659px;width:58px;height:18px;padding-right:1.5px;color:rgba(0,0,0,0.78);background:linear-gradient(90deg,#FFE483,#FFE78B);"><span class="t">9.8%</span></div>
<div class="c" style="left:742px;top:659px;width:58px;height:18px;padding-right:2px;color:rgba(0,0,0,0.78);background:linear-gradient(90deg,#FCB079,#FBA27A);"><span class="t">4.12%</span></div>
<div class="c no" style="left:1px;top:677px;width:39px;height:18px;"><span class="t">34</span></div>
<div class="c n" style="left:40px;top:677px;width:95px;height:18px;">家用电器(申万)</div>
<div class="c" style="left:138px;top:677px;width:61px;height:18px;padding-right:0px;color:rgba(0,0,0,0.9);background:#C3DA81;"><span class="t" style="left:2px">-0.89%</span></div>
<div class="c" style="left:199px;top:677px;width:54px;height:18px;padding-right:2.5px;color:rgba(0,0,0,0.78);background:linear-gradient(90deg,#63BE7B,#66BF7B);"><span class="t">-18.47%</span></div>
<div class="c" style="left:253px;top:677px;width:56px;height:18px;padding-right:2px;color:rgba(0,0,0,0.78);"><span class="t">67.77%</span></div>
<div class="c" style="left:309px;top:677px;width:63px;height:18px;padding-right:2px;color:rgba(0,0,0,0.9);background:linear-gradient(90deg,#FDC97D,#FED687);"><span class="t w">18.15%</span></div>
<div class="c" style="left:372px;top:677px;width:59px;height:18px;padding-right:5.5px;color:rgba(0,0,0,0.9);background:linear-gradient(90deg,#A9D27F,#CCDC86);"><span class="t w">1.59</span></div>
<div class="c" style="left:431px;top:677px;width:64px;height:18px;padding-right:4.5px;color:rgba(0,0,0,0.78);"><span class="t">17.65</span></div>
<div class="c" style="left:495px;top:677px;width:65px;height:18px;padding-right:1.5px;color:rgba(0,0,0,0.78);"><div class="pe" style="left:1px;top:1px;width:44.2px;height:16px"></div><span class="t">65.30%</span></div>
<div class="c" style="left:560px;top:677px;width:58px;height:18px;padding-right:5.5px;color:rgba(0,0,0,0.78);"><span class="t">3.29</span></div>
<div class="c" style="left:618px;top:677px;width:66px;height:18px;padding-right:1.5px;color:rgba(0,0,0,0.78);"><div class="pb" style="left:2px;top:1px;width:46.2px;height:16px"></div><span class="t">71%</span></div>
<div class="c" style="left:684px;top:677px;width:58px;height:18px;padding-right:1.5px;color:rgba(0,0,0,0.78);background:linear-gradient(90deg,#F8696B,#FA8C74);"><span class="t">18.6%</span></div>
<div class="c" style="left:742px;top:677px;width:58px;height:18px;padding-right:2px;color:rgba(0,0,0,0.78);background:linear-gradient(90deg,#FEE182,#FEDF89);"><span class="t">1.66%</span></div>
<div class="c no" style="left:1px;top:695px;width:39px;height:18px;"><span class="t">35</span></div>
<div class="c n" style="left:40px;top:695px;width:95px;height:18px;">休闲服务(申万)</div>
<div class="c" style="left:138px;top:695px;width:61px;height:18px;padding-right:0px;color:rgba(0,0,0,0.9);background:#63BE7B;"><span class="t" style="left:2px">-2.81%</span></div>
<div class="c" style="left:199px;top:695px;width:54px;height:18px;padding-right:2.5px;color:rgba(0,0,0,0.78);background:linear-gradient(90deg,#DAE082,#E9E58A);"><span class="t">-0.10%</span></div>
<div class="c" style="left:253px;top:695px;width:56px;height:18px;padding-right:2px;color:rgba(0,0,0,0.78);"><span class="t">154.79%</span></div>
<div class="c" style="left:309px;top:695px;width:63px;height:18px;padding-right:2px;color:rgba(0,0,0,0.9);background:linear-gradient(90deg,#FCBC7B,#FDCF85);"><span class="t w">38.45%</span></div>
<div class="c" style="left:372px;top:695px;width:59px;height:18px;padding-right:5.5px;color:rgba(0,0,0,0.9);background:linear-gradient(90deg,#6CC17C,#A2D082);"><span class="t w">0.81</span></div>
<div class="c" style="left:431px;top:695px;width:64px;height:18px;padding-right:4.5px;color:rgba(0,0,0,0.78);"><span class="t">75.62</span></div>
<div class="c" style="left:495px;top:695px;width:65px;height:18px;padding-right:1.5px;color:rgba(0,0,0,0.78);"><div class="pe" style="left:1px;top:1px;width:58.8px;height:16px"></div><span class="t">86.94%</span></div>
<div class="c" style="left:560px;top:695px;width:58px;height:18px;padding-right:5.5px;color:rgba(0,0,0,0.78);"><span class="t">7.50</span></div>
<div class="c" style="left:618px;top:695px;width:66px;height:18px;padding-right:1.5px;color:rgba(0,0,0,0.78);"><div class="pb" style="left:2px;top:1px;width:61.8px;height:16px"></div><span class="t">95%</span></div>
<div class="c" style="left:684px;top:695px;width:58px;height:18px;padding-right:1.5px;color:rgba(0,0,0,0.78);background:linear-gradient(90deg,#FFE282,#FFE68B);"><span class="t">9.9%</span></div>
<div class="c" style="left:742px;top:695px;width:58px;height:18px;padding-right:2px;color:rgba(0,0,0,0.78);background:linear-gradient(90deg,#9BCE7E,#85C87F);"><span class="t">0.33%</span></div>
<svg class="a" style="left:0;top:0" width="800" height="713" viewBox="0 0 800 713">
<line x1="0" y1="36.1" x2="800" y2="36.1" stroke="#1a6a92" stroke-width="1.3"/>
<line x1="798.6" y1="0" x2="798.6" y2="35.5" stroke="#b8b8b8" stroke-width="1.1"/>
<line x1="0.4" y1="0" x2="0.4" y2="35.5" stroke="#cfcfcf" stroke-width="0.9"/>
<line x1="684.3" y1="0" x2="684.3" y2="36" stroke="#9a9a9a" stroke-width="1.1"/>
<path d="M1.2 36V83M39.9 36V83M138.4 36V83M199.3 36V83M252.8 36V83M309.5 36V83M372.5 36V83M430.9 36V83M495.5 36V83M560.2 36V83M618.5 36V83M684.3 36V83M742.3 36V83" stroke="rgba(0,45,80,0.38)" stroke-width="1.2" fill="none"/>
<path d="M1 82.7H800" stroke="rgba(0,45,80,0.3)" stroke-width="1" fill="none"/>
<path d="M1.2 83V713M39.9 83V713M138.4 83V713M199.3 83V713M252.8 83V713M309.5 83V713M372.5 83V713M430.9 83V713M495.5 83V713M560.2 83V713M618.5 83V713M684.3 83V713M742.3 83V713M1 100.9H800M1 118.6H800M1 136.4H800M1 154.0H800M1 171.9H800M1 189.8H800M1 207.5H800M1 225.6H800M1 243.5H800M1 261.3H800M1 279.1H800M1 297.1H800M1 315.3H800M1 333.3H800M1 351.4H800M1 369.4H800M1 387.7H800M1 405.6H800M1 423.5H800M1 441.3H800M1 459.1H800M1 477.1H800M1 495.3H800M1 513.5H800M1 531.8H800M1 550.4H800M1 569.1H800M1 587.0H800M1 604.9H800M1 622.6H800M1 640.6H800M1 659.0H800M1 677.1H800M1 694.8H800M1 712.6H800" stroke="rgba(0,0,0,0.45)" stroke-width="1.15" fill="none"/>
<path d="M799.6 36V713" stroke="rgba(0,0,0,0.2)" stroke-width="1" fill="none"/>
</svg>
<div class="a" style="left:130px;top:79px;width:70px;height:650px;border:5px solid #fe0000;"></div>
</body></html>
